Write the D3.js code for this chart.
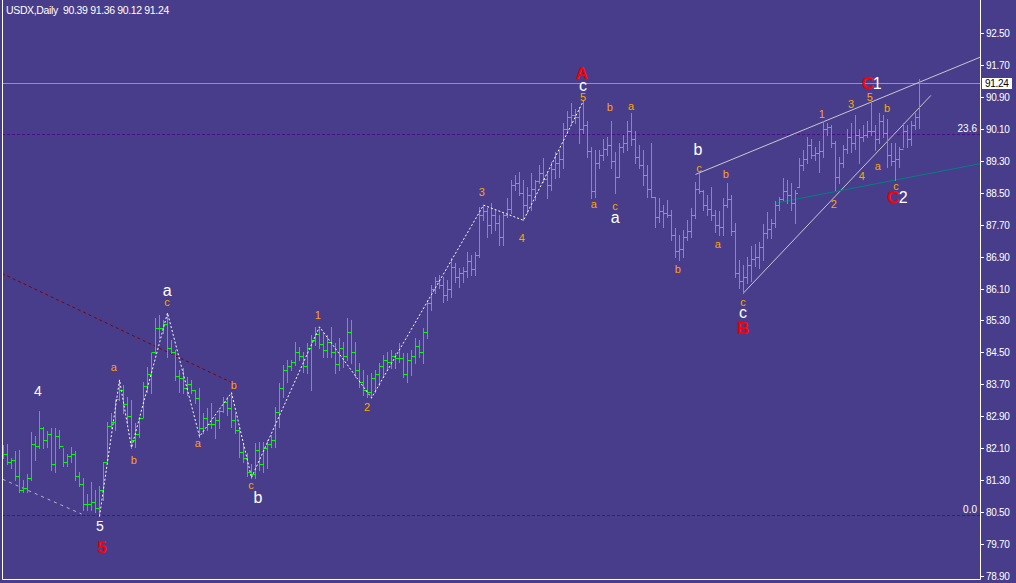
<!DOCTYPE html>
<html><head><meta charset="utf-8">
<script src="https://cdn.jsdelivr.net/npm/d3@7"></script>
<style>
html,body{margin:0;padding:0;background:#483D8B;overflow:hidden}
svg{display:block}
</style></head><body>
<svg id="c" width="1016" height="583"></svg>
<script>
const symbol = "USDX,Daily";
const lastOHLC = ["90.39", "91.36", "90.12", "91.24"];
const yTicks = [78.90, 79.70, 80.50, 81.30, 82.10, 82.90, 83.70, 84.50, 85.30, 86.10, 86.90, 87.70, 88.50, 89.30, 90.10, 90.90, 91.70, 92.50];
const lastPrice = 91.24;

const opens = [
82.10,81.95,81.75,81.80,81.40,81.05,81.10,81.35,82.20,82.15,
82.60,82.30,82.45,81.70,82.40,82.15,81.75,81.90,81.95,81.40,
81.20,80.70,80.70,80.75,80.60,81.05,81.75,82.65,82.75,83.32,
83.55,83.20,82.90,82.30,82.45,82.85,83.65,83.95,84.50,85.10,
85.10,85.20,84.60,84.50,83.90,83.85,83.60,83.70,83.55,83.35,
82.60,82.85,82.70,82.70,82.80,83.02,83.25,83.10,82.80,82.55,
82.00,81.85,81.50,81.45,82.05,81.70,82.10,82.20,82.30,83.00,
83.60,84.05,84.15,84.25,84.50,84.40,84.15,84.60,84.80,84.95,
84.70,84.55,84.75,84.50,84.20,84.60,84.40,85.00,84.50,84.05,
83.75,83.55,83.50,83.85,83.95,84.15,84.30,84.25,84.40,84.35,
84.35,83.95,84.30,84.40,84.65,84.50,85.00,85.75,86.10,86.30,
86.20,85.95,86.10,86.65,86.40,86.50,86.55,86.80,86.60,86.95,
87.95,88.05,87.70,87.95,87.75,87.40,87.95,88.10,88.70,88.75,
88.50,88.20,88.45,88.60,88.80,89.00,88.85,88.70,89.10,89.25,
89.35,90.10,90.40,90.45,90.40,90.10,90.20,89.55,88.55,89.25,
89.45,89.60,89.70,89.30,88.90,89.65,89.75,90.05,89.85,89.40,
89.20,88.95,88.60,88.39,87.90,88.05,88.00,87.95,87.45,87.05,
87.10,87.40,87.55,87.95,88.60,88.55,88.20,88.10,87.95,87.70,
87.65,88.20,88.35,87.55,86.50,86.30,86.40,86.70,86.85,86.90,
87.15,87.50,87.60,87.75,88.20,88.35,88.55,88.45,88.25,88.64,
89.20,89.35,89.70,89.45,89.50,89.55,90.10,90.15,89.75,88.90,
89.25,89.60,89.90,89.75,89.95,89.90,89.95,90.05,90.05,89.85,
90.30,90.00,89.45,89.30,89.35,89.60,90.05,89.85,90.20,90.39];

const highs = [
82.19,82.21,81.86,82.04,82.06,81.31,81.44,82.51,82.41,83.04,
82.64,82.54,82.61,82.61,82.56,82.11,81.96,82.14,82.04,81.49,
81.34,80.94,81.24,81.06,81.16,81.76,82.76,82.99,83.31,83.81,
83.69,83.39,83.31,82.74,82.89,83.76,84.14,84.49,85.36,85.44,
85.31,85.49,84.81,84.56,84.06,84.11,83.89,83.81,83.56,83.61,
82.99,83.11,83.24,82.89,83.06,83.39,83.39,83.49,82.99,82.64,
82.24,81.99,81.69,82.24,82.26,82.26,82.31,82.44,83.14,83.74,
84.19,84.31,84.31,84.76,84.64,84.51,84.74,84.94,85.14,85.14,
84.99,84.94,85.14,84.74,84.86,84.76,85.36,85.31,84.76,84.24,
84.06,83.94,83.99,84.06,84.24,84.44,84.51,84.56,84.49,84.74,
84.49,84.49,84.56,84.86,84.81,85.11,85.81,86.19,86.39,86.44,
86.39,86.31,86.86,86.74,86.61,86.64,87.01,86.94,87.01,88.14,
88.19,88.11,88.24,88.06,87.94,87.99,88.36,88.81,88.94,89.01,
88.81,88.64,88.99,88.81,89.19,89.36,89.01,89.26,89.51,89.56,
90.26,90.56,90.76,90.61,90.64,90.81,90.31,89.64,89.56,89.56,
89.86,89.89,90.31,89.51,89.76,89.94,90.31,90.49,90.06,89.69,
89.56,89.19,89.74,88.39,88.36,88.19,88.31,88.06,87.61,87.44,
87.56,87.81,88.11,88.76,88.99,88.56,88.44,88.64,88.06,88.04,
88.36,88.74,88.44,87.74,86.81,86.69,86.89,87.16,87.21,87.26,
87.71,88.01,87.84,88.29,88.39,88.86,88.81,88.74,88.56,89.36,
89.56,89.89,89.86,89.64,89.81,90.31,90.26,90.19,89.81,89.39,
89.69,90.11,90.24,90.44,90.11,90.19,90.31,90.74,90.19,90.49,
90.44,90.36,89.76,89.74,89.64,90.26,90.19,90.31,90.49,91.36];

const lows = [
81.86,81.71,81.59,81.29,80.99,80.99,81.01,81.31,81.81,82.11,
82.11,82.14,81.56,81.49,82.11,81.64,81.66,81.76,81.29,81.14,
80.54,80.56,80.56,80.49,80.39,80.81,81.74,82.61,82.56,83.31,
82.99,82.74,82.11,82.14,82.39,82.89,83.51,83.49,84.49,84.86,
84.99,84.39,84.49,83.81,83.51,83.49,83.44,83.49,83.24,82.39,
82.49,82.56,82.61,82.36,82.61,83.01,82.94,82.64,82.49,81.89,
81.74,81.39,81.36,81.36,81.56,81.51,81.61,82.14,82.14,82.64,
83.39,83.76,84.06,84.19,84.31,84.01,83.99,83.56,84.69,84.61,
84.39,84.39,84.39,83.99,84.06,84.14,84.31,84.24,83.89,83.64,
83.44,83.39,83.36,83.51,83.69,83.89,84.06,84.11,84.11,84.26,
83.89,83.76,83.94,84.24,84.39,84.24,84.86,85.56,85.99,86.11,
85.76,85.81,85.89,86.26,86.14,86.26,86.39,86.44,86.44,86.89,
87.81,87.39,87.49,87.56,87.19,87.19,87.89,87.99,88.56,88.44,
87.81,87.99,88.06,88.31,88.74,88.76,88.36,88.56,88.86,88.89,
89.11,89.99,90.24,90.26,89.76,90.01,89.39,88.36,88.39,89.11,
89.31,89.44,89.11,88.49,88.89,89.51,89.56,89.69,89.24,89.11,
88.69,88.39,88.39,87.64,87.76,87.64,87.89,87.31,86.89,86.81,
86.89,87.31,87.39,87.86,88.49,88.06,87.94,87.81,87.51,87.44,
87.44,88.14,87.44,86.39,86.11,85.99,86.24,86.29,86.66,86.61,
86.81,87.36,87.36,87.64,88.06,88.31,88.24,88.06,87.74,88.64,
89.06,89.24,89.36,89.31,89.01,89.39,89.94,89.64,88.56,88.74,
89.14,89.49,89.51,89.61,89.24,89.81,89.89,89.94,89.56,89.76,
89.89,89.14,89.19,88.81,89.14,89.64,89.64,89.69,90.11,90.12];

const closes = [
81.95,81.75,81.80,81.40,81.05,81.10,81.35,82.20,82.15,82.60,
82.30,82.45,81.70,82.40,82.15,81.75,81.90,81.95,81.40,81.20,
80.70,80.70,80.75,80.60,81.05,81.75,82.65,82.75,83.32,83.55,
83.20,82.90,82.30,82.45,82.85,83.65,83.95,84.50,85.10,85.10,
85.20,84.60,84.50,83.90,83.85,83.60,83.70,83.55,83.35,82.60,
82.85,82.70,82.70,82.80,83.02,83.25,83.10,82.80,82.55,82.00,
81.85,81.50,81.45,82.05,81.70,82.10,82.20,82.30,83.00,83.60,
84.05,84.15,84.25,84.50,84.40,84.15,84.60,84.80,84.95,84.70,
84.55,84.75,84.50,84.20,84.60,84.40,85.00,84.50,84.05,83.75,
83.55,83.50,83.85,83.95,84.15,84.30,84.25,84.40,84.35,84.35,
83.95,84.30,84.40,84.65,84.50,85.00,85.75,86.10,86.30,86.20,
85.95,86.10,86.65,86.40,86.50,86.55,86.80,86.60,86.95,87.95,
88.05,87.70,87.95,87.75,87.40,87.95,88.10,88.70,88.75,88.50,
88.20,88.45,88.60,88.80,89.00,88.85,88.70,89.10,89.25,89.35,
90.10,90.40,90.45,90.40,90.10,90.20,89.55,88.55,89.25,89.45,
89.60,89.70,89.30,88.90,89.65,89.75,90.05,89.85,89.40,89.20,
88.95,88.60,88.40,87.90,88.05,88.00,87.95,87.45,87.05,87.10,
87.40,87.55,87.95,88.60,88.55,88.20,88.10,87.95,87.70,87.65,
88.20,88.35,87.55,86.50,86.30,86.40,86.70,86.85,86.90,87.15,
87.50,87.60,87.75,88.20,88.35,88.55,88.45,88.25,88.50,89.20,
89.35,89.70,89.45,89.50,89.55,90.10,90.15,89.75,88.90,89.25,
89.60,89.90,89.75,89.95,89.90,89.95,90.05,90.05,89.85,90.30,
90.00,89.45,89.30,89.35,89.60,90.05,89.85,90.20,90.39,91.24];

// wave zigzag pivots: [bar index, price]
const zigzag = [[24,80.39],[29,83.81],[32,82.11],[41,85.49],[49,82.39],[57,83.49],[62,81.36],[79,85.14],[92,83.36],[120,88.19],[130,87.81],[145,90.81]];
const maroonTrend = [[-0.4,86.48],[58.6,83.67]];
const grayTrend = [[-0.2,81.32],[19.5,80.45]];
const upperChannel = [[173,88.96],[244.2,91.90]];
const lowerChannel = [[185,85.99],[231.85,90.94]];
const tealTrend = [[192.9,88.24],[244.2,89.23]];
const fibNames = ["23.6", "0.0"];
const fibPrices = [89.98, 80.42];

// wave labels: text, kind, bar index, price
const labels = [
 ["4","wd",8.6,83.54],["5","wd",24.1,80.15],["5","r",24.6,79.60],
 ["a","w",40.9,86.04],["c","o",40.9,85.76],["a","o",27.6,84.14],["b","o",32.6,81.79],
 ["a","o",48.6,82.22],["b","o",57.6,83.67],["c","o",61.9,81.17],["b","w",63.6,80.87],
 ["1","o",78.6,85.44],["2","o",90.9,83.14],["3","o",119.6,88.51],["4","o",129.6,87.36],
 ["5","o",144.9,90.90],["c","w",144.9,91.20],["A","r",144.6,91.50],
 ["a","o",147.6,88.21],["c","o",152.9,88.16],["a","w",152.9,87.88],["b","o",151.6,90.65],["a","o",156.9,90.68],
 ["b","o",168.6,86.59],["b","w",173.6,89.58],["c","o",173.9,89.13],["a","o",178.6,87.21],["b","o",180.6,88.98],
 ["c","o",184.9,85.76],["c","w",184.9,85.51],["B","r",184.9,85.11],
 ["1","o",204.6,90.48],["2","o",207.6,88.23],["3","o",211.9,90.73],["4","o",214.6,88.93],["5","o",216.6,90.90],
 ["b","o",220.9,90.63],["a","o",218.6,89.18],["c","o",223.1,88.66],
 ["C","rs",222.4,88.38],["2","ws",224.9,88.38],
 ["C","rs",216.1,91.23],["1","ws",218.4,91.23]
];

const W = 1016, H = 583;
const plotL = 2, plotR = 980, plotB = 579;
const svg = d3.select("#c");
svg.append("rect").attr("width", W).attr("height", H).attr("fill", "#483D8B");

const x = d3.scaleLinear().domain([0, 229]).range([3.5, 919.5]);
const y = d3.scaleLinear().domain([78.9, 92.5]).range([575.8, 33.2]);

svg.append("defs").append("clipPath").attr("id", "plot")
  .append("rect").attr("x", plotL + 1).attr("y", 0).attr("width", plotR - plotL - 1).attr("height", plotB);

const g = svg.append("g").attr("clip-path", "url(#plot)");
const line = d3.line().x(d => x(d[0])).y(d => y(d[1]));
const FONT = "Liberation Sans, Arial, sans-serif";

// fib levels
fibPrices.forEach((p, k) => {
  const yy = Math.round(y(p)) + 0.5;
  g.append("line").attr("x1", plotL).attr("x2", plotR).attr("y1", yy).attr("y2", yy)
    .attr("stroke", "#4e0c86").attr("stroke-dasharray", "3,2");
  svg.append("text").attr("x", 977).attr("y", yy - 2.5).attr("text-anchor", "end")
    .attr("fill", "#fff").attr("font-family", FONT).attr("font-size", 10)
    .text(fibNames[k]);
});

// last price line
{
  const yy = Math.round(y(lastPrice)) + 0.5;
  g.append("line").attr("x1", plotL).attr("x2", plotR).attr("y1", yy).attr("y2", yy)
    .attr("stroke", "#8f9a98");
}

// trend lines
g.append("path").attr("d", line(maroonTrend)).attr("fill", "none").attr("stroke", "#800000").attr("stroke-dasharray", "3,3");
g.append("path").attr("d", line(grayTrend)).attr("fill", "none").attr("stroke", "#b8b8c0").attr("stroke-dasharray", "3,4");
g.append("path").attr("d", line(upperChannel)).attr("fill", "none").attr("stroke", "#c8c8d0");
g.append("path").attr("d", line(lowerChannel)).attr("fill", "none").attr("stroke", "#c8c8d0");
g.append("path").attr("d", line(tealTrend)).attr("fill", "none").attr("stroke", "#008080");

// bars
const bars = d3.range(highs.length).map(i => ({ i, o: opens[i], h: highs[i], l: lows[i], c: closes[i] }));
const bg = g.append("g");
bg.selectAll("path.v").data(bars).join("path").attr("class", "v")
  .attr("d", d => `M${x(d.i)},${Math.round(y(d.h))}V${Math.round(y(d.l)) + 1}`)
  .attr("stroke", "#32cd32").attr("stroke-width", 1).attr("fill", "none");
bg.selectAll("path.t").data(bars).join("path").attr("class", "t")
  .attr("d", d => {
    const yo = Math.round(y(d.o)) + 0.5, yc = Math.round(y(d.c)) + 0.5, xx = x(d.i);
    return `M${xx - 2.5},${yo}H${xx}M${xx},${yc}H${xx + 2.5}`;
  })
  .attr("stroke", "#00ff00").attr("stroke-width", 1).attr("fill", "none");

// zigzag
g.append("path").attr("d", line(zigzag)).attr("fill", "none").attr("stroke", "#ffffff").attr("stroke-dasharray", "2,2");

// labels
const kindStyle = {
  w:  { fill: "#ffffff", size: 16, weight: "normal" },
  wd: { fill: "#ffffff", size: 14, weight: "normal" },
  ws: { fill: "#ffffff", size: 16, weight: "normal" },
  o:  { fill: "#ffa500", size: 11, weight: "normal" },
  r:  { fill: "#ff0000", size: 17, weight: "bold" },
  rs: { fill: "#ff0000", size: 17, weight: "bold" }
};
svg.append("g").selectAll("text").data(labels).join("text")
  .attr("x", d => x(d[2])).attr("y", d => y(d[3]))
  .attr("text-anchor", "middle").attr("dominant-baseline", "central")
  .attr("font-family", FONT)
  .attr("font-size", d => kindStyle[d[1]].size)
  .attr("font-weight", d => kindStyle[d[1]].weight)
  .attr("fill", d => kindStyle[d[1]].fill)
  .text(d => d[0]);

// frame
svg.append("path").attr("d", `M${plotL + 0.5},0V${plotB + 0.5}H${plotR + 0.5}V0`)
  .attr("fill", "none").attr("stroke", "#ffffff");

// axis ticks
const ax = svg.append("g");
yTicks.forEach(t => {
  const yy = Math.round(y(t)) + 0.5;
  ax.append("line").attr("x1", 981).attr("x2", 984).attr("y1", yy).attr("y2", yy).attr("stroke", "#fff");
  ax.append("text").attr("x", 986).attr("y", yy).attr("dominant-baseline", "central")
    .attr("fill", "#fff").attr("font-family", FONT)
    .attr("font-size", 10).attr("letter-spacing", -0.3).text(t.toFixed(2));
});

// last price box
{
  const yy = Math.round(y(lastPrice));
  svg.append("rect").attr("x", 982).attr("y", yy - 5).attr("width", 30).attr("height", 11).attr("fill", "#fff");
  svg.append("text").attr("x", 985).attr("y", yy + 0.5).attr("dominant-baseline", "central")
    .attr("fill", "#000").attr("font-family", FONT)
    .attr("font-size", 10).attr("letter-spacing", -0.3).text(lastPrice.toFixed(2));
}

// header
svg.append("text").attr("x", 6).attr("y", 14).attr("fill", "#fff")
  .attr("font-family", FONT).attr("font-size", 10.5).attr("letter-spacing", -0.35)
  .style("white-space", "pre")
  .text(symbol + "  " + lastOHLC.join(" "));
</script>
</body></html>
